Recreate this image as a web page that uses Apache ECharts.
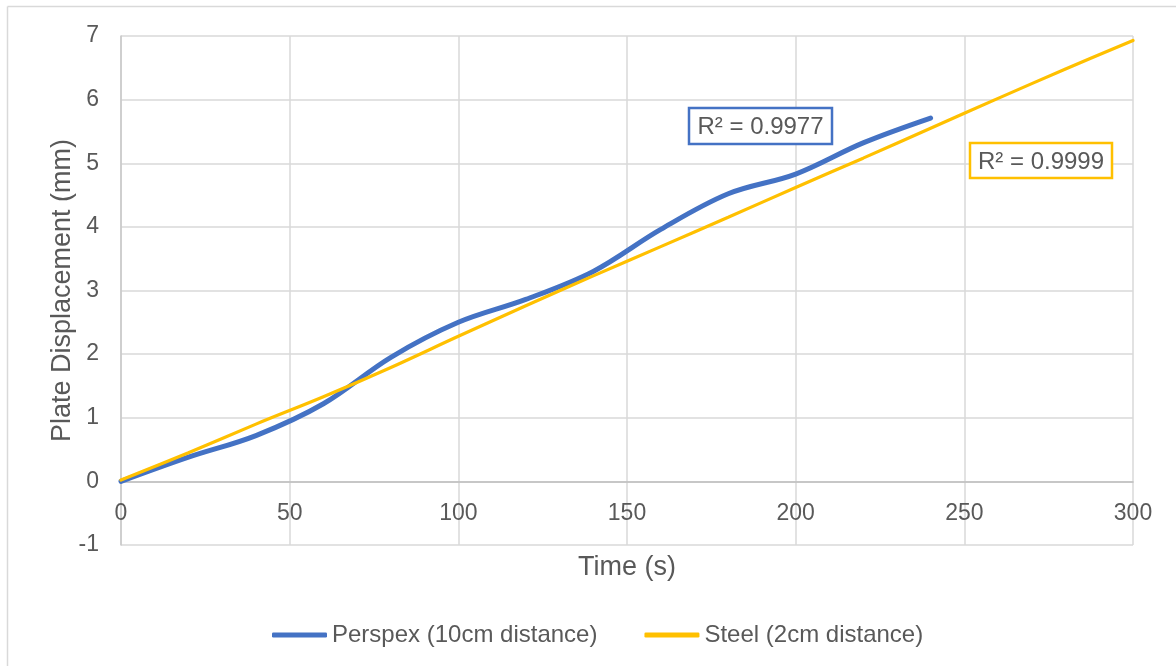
<!DOCTYPE html>
<html>
<head>
<meta charset="utf-8">
<script src="https://cdn.jsdelivr.net/npm/echarts@6/dist/echarts.min.js"></script>
<style>html,body{margin:0;padding:0;background:#fff;}#c{width:1176px;height:666px;}</style>
</head>
<body>
<div id="c"></div>
<script>
const perspexTime = [0, 20, 40, 60, 80, 100, 120, 140, 160, 180, 200, 220, 240];
const perspexDisp = [0, 0.38, 0.72, 1.22, 1.95, 2.5, 2.86, 3.3, 3.96, 4.52, 4.83, 5.32, 5.71];
const steelTime = [0, 20, 40, 60, 80, 100, 120, 140, 160, 180, 200, 220, 240, 260, 280, 300];
const steelDisp = [0.02, 0.45, 0.9, 1.33, 1.79, 2.28, 2.76, 3.23, 3.69, 4.15, 4.62, 5.08, 5.55, 6.02, 6.48, 6.93];
const seriesNames = ['Perspex (10cm distance)', 'Steel (2cm distance)'];
const r2Labels = ['R² = 0.9977', 'R² = 0.9999'];

const font = '"Liberation Sans", Arial, sans-serif';
const txt = '#595959';
const chart = echarts.init(document.getElementById('c'), null, {renderer: 'canvas'});
chart.setOption({
  animation: false,
  backgroundColor: '#fff',
  textStyle: {fontFamily: font},
  grid: {left: 121, top: 36, right: 43, bottom: 121, containLabel: false},
  legend: {
    bottom: 14, left: 267,
    itemWidth: 55, itemHeight: 5, itemGap: 47,
    textStyle: {fontSize: 24, color: txt, fontFamily: font, padding: [0, 0, 0, 0]},
    data: [
      {name: seriesNames[0], icon: 'roundRect', itemStyle: {color: '#4472C4'}},
      {name: seriesNames[1], icon: 'roundRect', itemStyle: {color: '#FFC000'}}
    ]
  },
  xAxis: {
    type: 'value', min: 0, max: 300, interval: 50,
    name: 'Time (s)', nameLocation: 'middle', nameGap: 9, nameMoveOverlap: false,
    nameTextStyle: {fontSize: 27, color: txt, fontFamily: font},
    axisLine: {show: true, onZero: true, lineStyle: {color: '#bfbfbf', width: 1.5}},
    axisTick: {show: false},
    axisLabel: {fontSize: 23, color: txt, margin: -43, fontFamily: font},
    splitLine: {show: true, lineStyle: {color: '#d9d9d9', width: 1.5}}
  },
  yAxis: {
    type: 'value', min: -1, max: 7, interval: 1,
    name: 'Plate Displacement (mm)', nameLocation: 'middle', nameGap: 45, nameMoveOverlap: false,
    nameTextStyle: {fontSize: 27, color: txt, fontFamily: font},
    axisLine: {show: true, onZero: false, lineStyle: {color: '#c8c8c8', width: 1.5}},
    axisTick: {show: false},
    axisLabel: {fontSize: 23, color: txt, margin: 22, fontFamily: font},
    splitLine: {show: true, lineStyle: {color: '#d9d9d9', width: 1.5}}
  },
  series: [
    {
      name: seriesNames[0], type: 'line', smooth: 0.35, symbol: 'none', z: 3,
      lineStyle: {color: '#4472C4', width: 5, cap: 'round'},
      itemStyle: {color: '#4472C4'},
      data: perspexTime.map((t, i) => [t, perspexDisp[i]])
    },
    {
      name: seriesNames[1], type: 'line', smooth: 0.35, symbol: 'none', z: 4,
      lineStyle: {color: '#FFC000', width: 3.2, cap: 'round'},
      itemStyle: {color: '#FFC000'},
      data: steelTime.map((t, i) => [t, steelDisp[i]])
    }
  ],
  graphic: [
    {type: 'line', shape: {x1: 7.5, y1: 6.5, x2: 1176, y2: 6.5}, style: {stroke: '#d9d9d9', lineWidth: 1.5}, silent: true},
    {type: 'line', shape: {x1: 7.5, y1: 6.5, x2: 7.5, y2: 666}, style: {stroke: '#d9d9d9', lineWidth: 1.5}, silent: true},
    {type: 'rect', shape: {x: 689, y: 108, width: 143, height: 36}, style: {fill: '#fff', stroke: '#4472C4', lineWidth: 2.5}, z: 10},
    {type: 'text', x: 760.5, y: 127, style: {text: r2Labels[0], fill: txt, font: '24px ' + font, textAlign: 'center', textVerticalAlign: 'middle'}, z: 11},
    {type: 'rect', shape: {x: 970, y: 143, width: 142, height: 35}, style: {fill: '#fff', stroke: '#FFC000', lineWidth: 2.5}, z: 10},
    {type: 'text', x: 1041, y: 162, style: {text: r2Labels[1], fill: txt, font: '24px ' + font, textAlign: 'center', textVerticalAlign: 'middle'}, z: 11}
  ]
});
</script>
</body>
</html>
